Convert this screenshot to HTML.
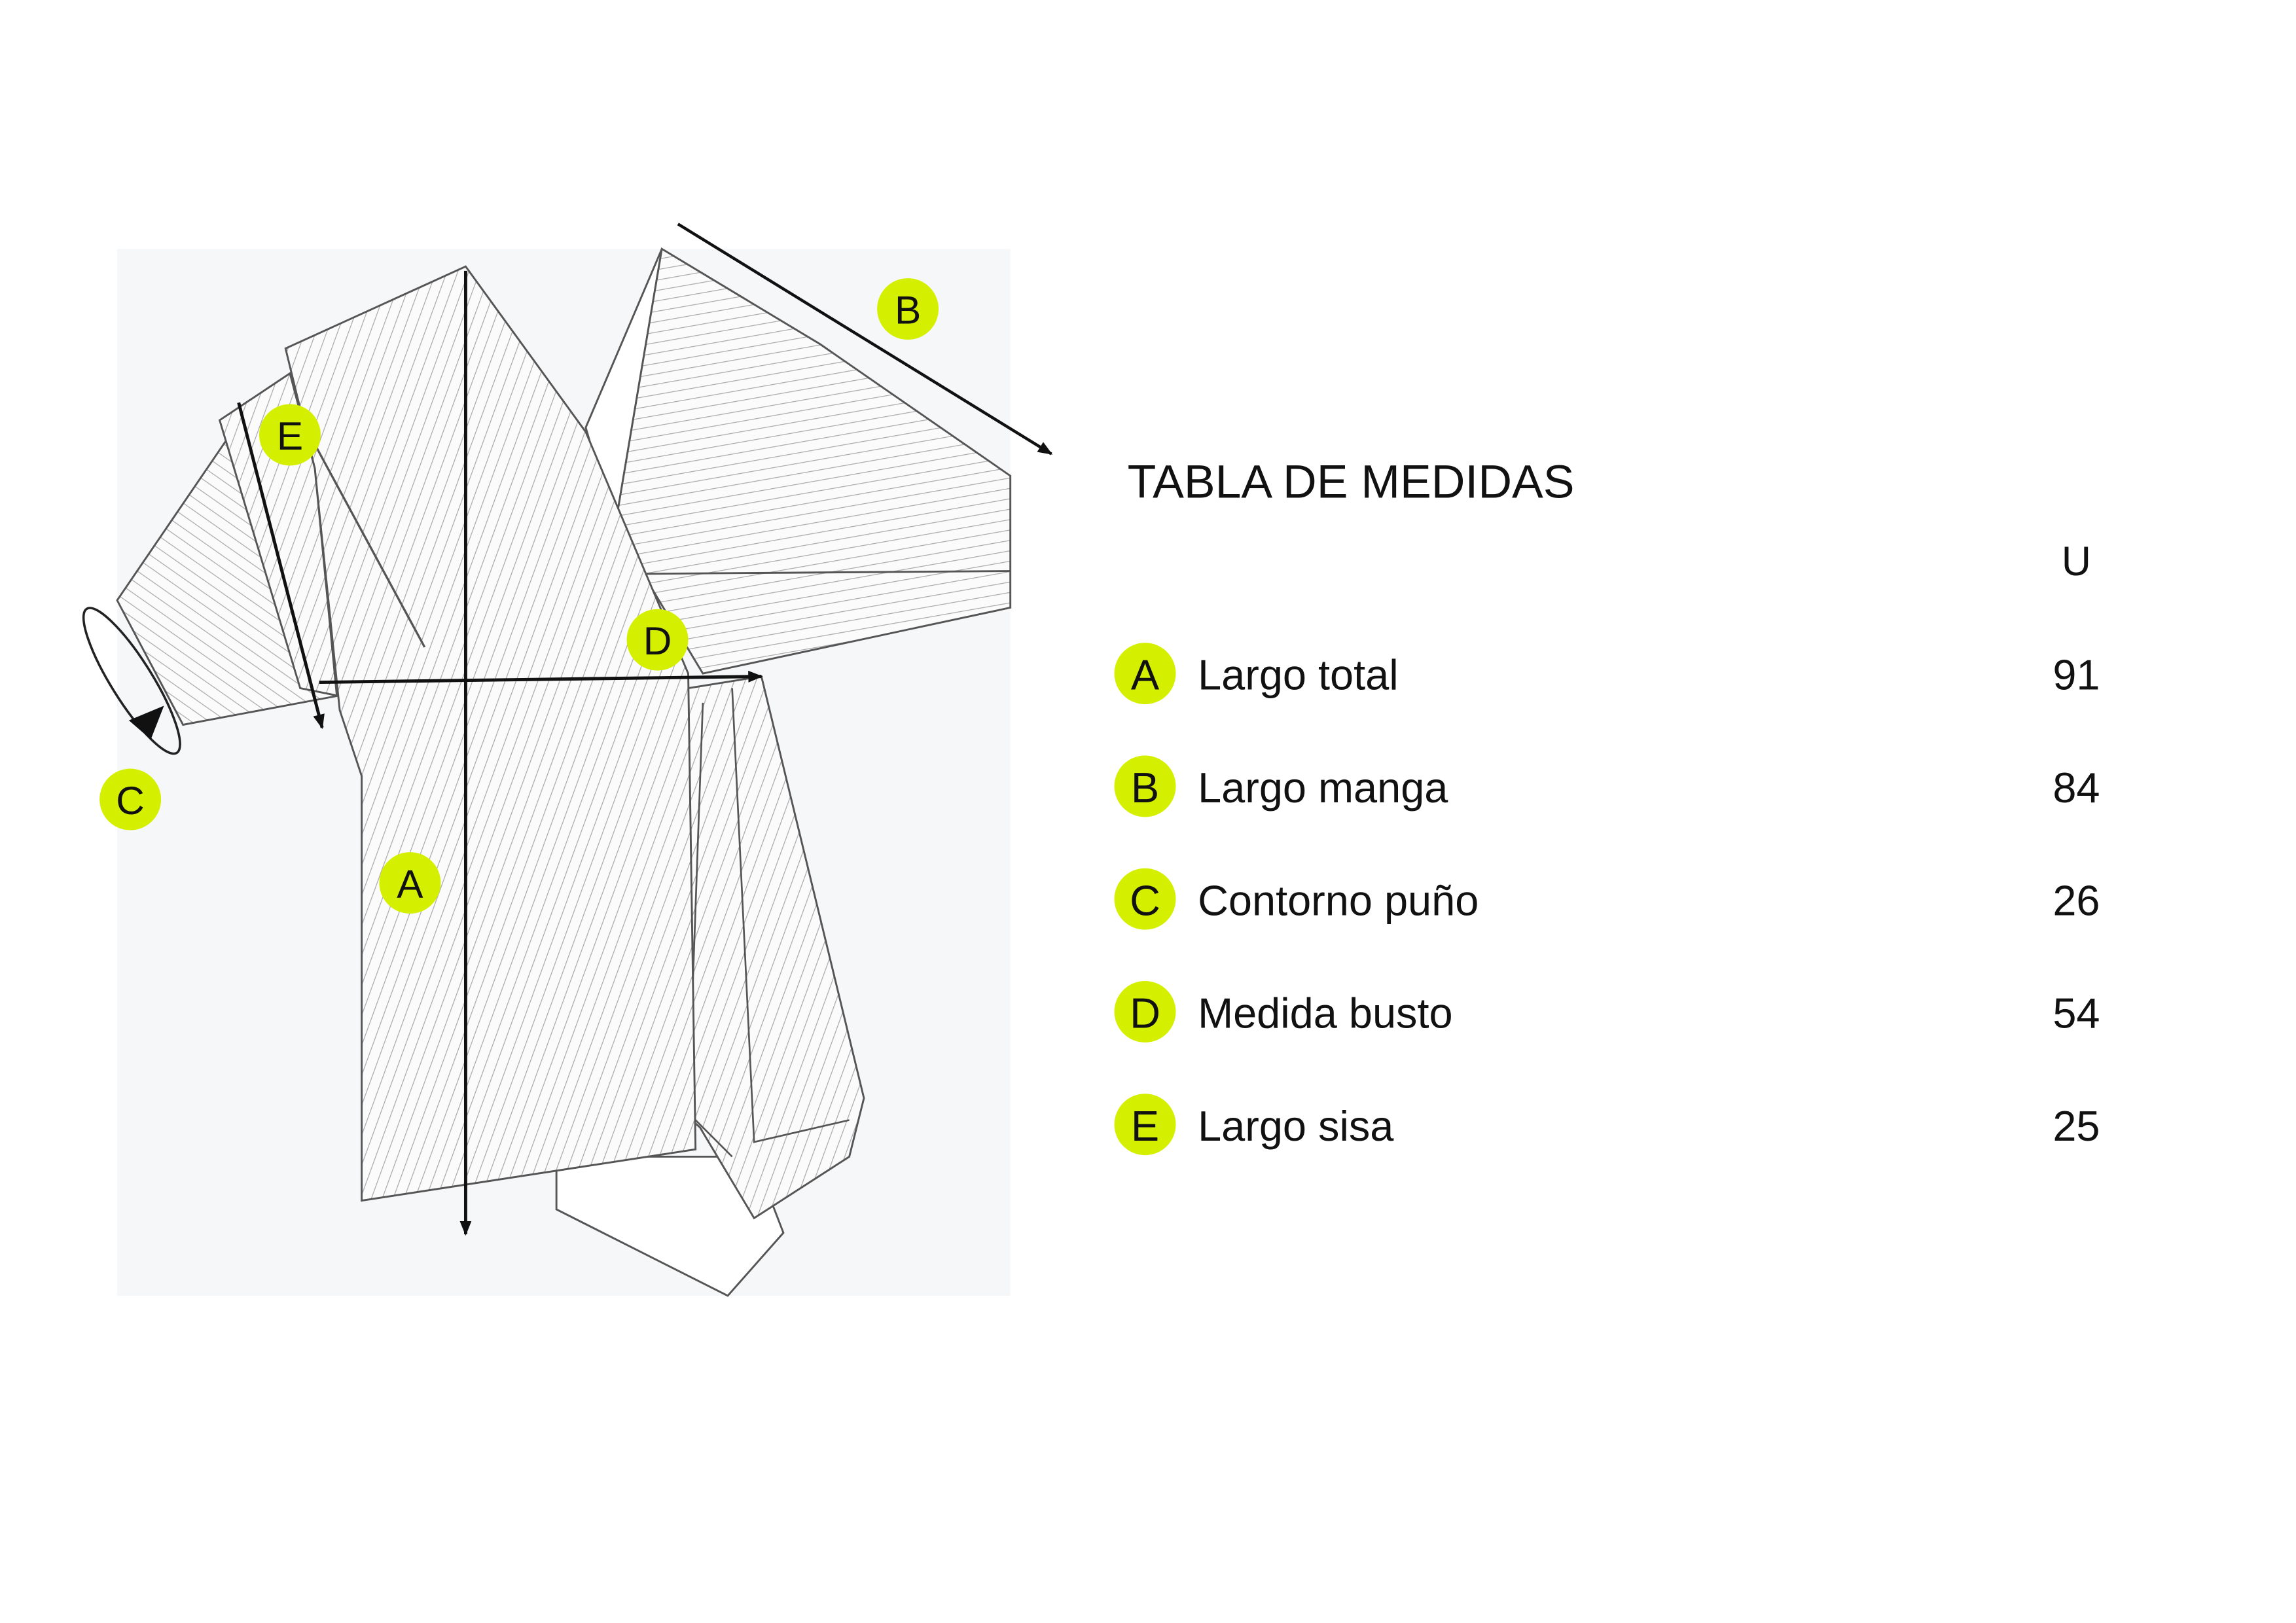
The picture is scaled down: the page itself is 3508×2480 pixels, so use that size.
<!DOCTYPE html>
<html><head><meta charset="utf-8"><style>
html,body{margin:0;padding:0;background:#fff;}
svg{display:block;}
text{font-family:"Liberation Sans",sans-serif;fill:#111;}
</style></head><body>
<svg width="3508" height="2480" viewBox="0 0 1568 1108.5" xmlns="http://www.w3.org/2000/svg">
<defs>
<pattern id="h1" width="7" height="7" patternUnits="userSpaceOnUse" patternTransform="rotate(20)">
<rect width="7" height="7" fill="#fbfbfc"/><line x1="0" y1="0" x2="0" y2="7" stroke="#a9a9ad" stroke-width="1.1"/></pattern>
<pattern id="h2" width="7" height="7" patternUnits="userSpaceOnUse" patternTransform="rotate(-55)">
<rect width="7" height="7" fill="#fbfbfc"/><line x1="0" y1="0" x2="0" y2="7" stroke="#a9a9ad" stroke-width="1.1"/></pattern>
<pattern id="h3" width="7" height="7" patternUnits="userSpaceOnUse" patternTransform="rotate(80)">
<rect width="7" height="7" fill="#fbfbfc"/><line x1="0" y1="0" x2="0" y2="7" stroke="#a9a9ad" stroke-width="1.1"/></pattern>
<marker id="ar" markerWidth="10" markerHeight="8" refX="9" refY="4" orient="auto" markerUnits="userSpaceOnUse">
<path d="M0,0 L10,4 L0,8 Z" fill="#111"/></marker>
</defs>
<rect x="80" y="170" width="610" height="715" fill="#f6f7f9"/>
<polygon points="380,790 380,826 497,885 535,842 515,790" fill="#fff" stroke="#555" stroke-width="1.3"/>
<polygon points="400,292 452,170 420,360" fill="#fff" stroke="#555" stroke-width="1.3"/>
<polygon points="452,170 560,235 690,325 690,415 480,460 420,360" fill="url(#h3)" stroke="#555" stroke-width="1.3"/>
<line x1="430" y1="392" x2="690" y2="390" stroke="#555" stroke-width="1.3"/>
<polygon points="470,470 520,462 590,750 580,790 515,832 478,770 458,752" fill="url(#h1)" stroke="#555" stroke-width="1.3"/>
<polyline points="480,480 470,760 500,790" fill="none" stroke="#555" stroke-width="1.2"/>
<polyline points="500,470 515,780 580,765" fill="none" stroke="#555" stroke-width="1.2"/>
<polygon points="80,410 155,300 232,475 125,495" fill="url(#h2)" stroke="#555" stroke-width="1.3"/>
<polygon points="195,238 318,182 400,295 470,460 475,785 247,820 247,530 232,485 215,320" fill="url(#h1)" stroke="#555" stroke-width="1.3"/>
<polygon points="150,287 198,255 215,320 230,475 205,470" fill="url(#h1)" stroke="#555" stroke-width="1.3"/>
<line x1="205" y1="285" x2="290" y2="442" stroke="#555" stroke-width="1.5"/>
<ellipse cx="90" cy="465" rx="14" ry="58" transform="rotate(-32 90 465)" fill="none" stroke="#222" stroke-width="1.6"/>
<path d="M88,492 L112,482 L103,505 Z" fill="#111"/>
<line x1="318" y1="185" x2="318" y2="843" stroke="#111" stroke-width="2.2" marker-end="url(#ar)"/>
<line x1="463" y1="153" x2="718" y2="310" stroke="#111" stroke-width="2" marker-end="url(#ar)"/>
<line x1="218" y1="466" x2="520" y2="462" stroke="#111" stroke-width="2.2" marker-end="url(#ar)"/>
<line x1="163" y1="275" x2="220" y2="497" stroke="#111" stroke-width="2.2" marker-end="url(#ar)"/>
<g font-size="27" text-anchor="middle">
<circle cx="620" cy="211" r="21" fill="#d4f000"/><text x="620" y="221">B</text>
<circle cx="198" cy="297" r="21" fill="#d4f000"/><text x="198" y="307">E</text>
<circle cx="449" cy="437" r="21" fill="#d4f000"/><text x="449" y="447">D</text>
<circle cx="89" cy="546" r="21" fill="#d4f000"/><text x="89" y="556">C</text>
<circle cx="280" cy="603" r="21" fill="#d4f000"/><text x="280" y="613">A</text>
</g>
<text x="770" y="340" font-size="32">TABLA DE MEDIDAS</text>
<text x="1418" y="393" font-size="28" text-anchor="middle">U</text>
<g font-size="29">
<circle cx="782" cy="460" r="21" fill="#d4f000"/><text x="782" y="471" text-anchor="middle">A</text><text x="818" y="471">Largo total</text><text x="1418" y="471" text-anchor="middle">91</text>
<circle cx="782" cy="537" r="21" fill="#d4f000"/><text x="782" y="548" text-anchor="middle">B</text><text x="818" y="548">Largo manga</text><text x="1418" y="548" text-anchor="middle">84</text>
<circle cx="782" cy="614" r="21" fill="#d4f000"/><text x="782" y="625" text-anchor="middle">C</text><text x="818" y="625">Contorno puño</text><text x="1418" y="625" text-anchor="middle">26</text>
<circle cx="782" cy="691" r="21" fill="#d4f000"/><text x="782" y="702" text-anchor="middle">D</text><text x="818" y="702">Medida busto</text><text x="1418" y="702" text-anchor="middle">54</text>
<circle cx="782" cy="768" r="21" fill="#d4f000"/><text x="782" y="779" text-anchor="middle">E</text><text x="818" y="779">Largo sisa</text><text x="1418" y="779" text-anchor="middle">25</text>
</g>
</svg>
</body></html>
